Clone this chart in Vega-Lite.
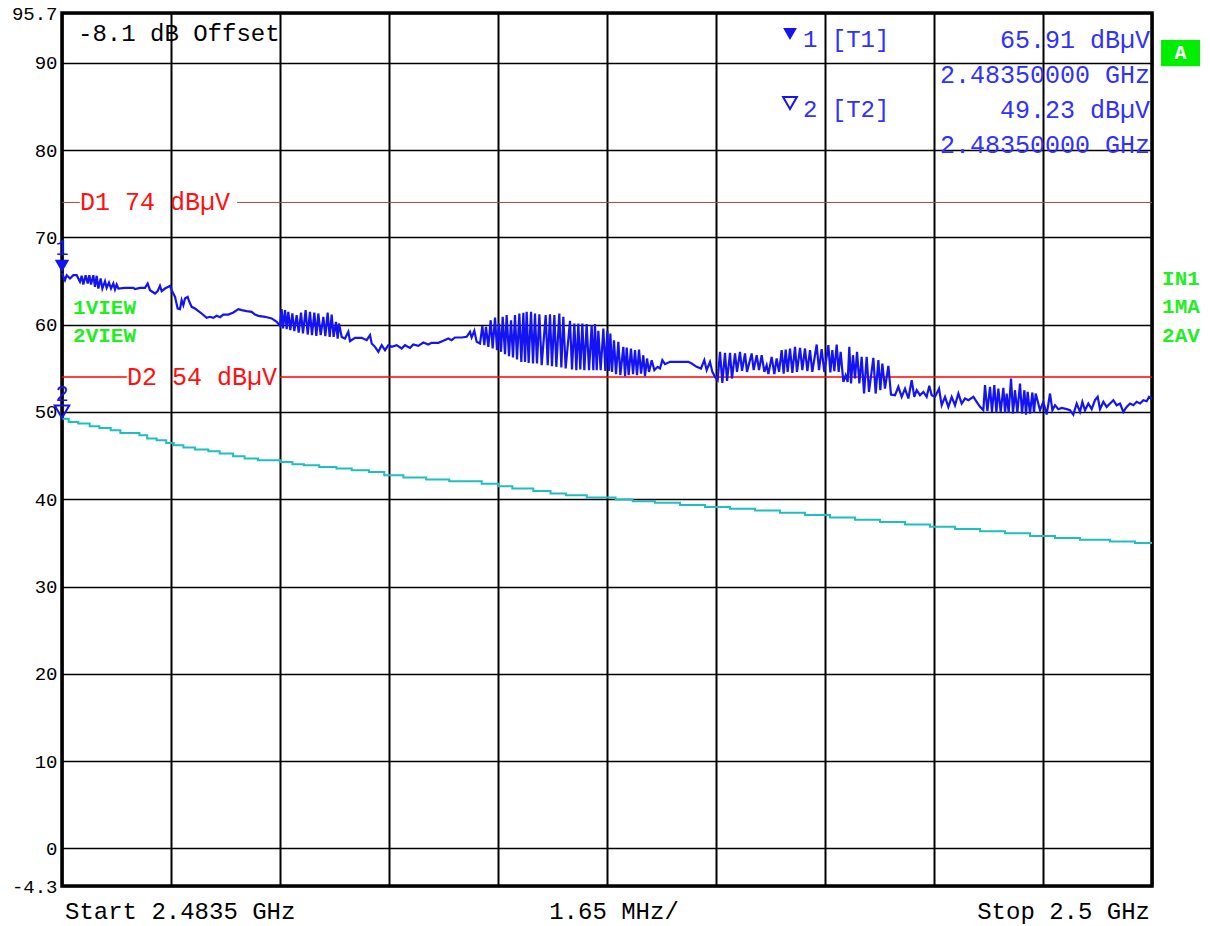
{
  "$schema": "https://vega.github.io/schema/vega-lite/v6.json",
  "width": 1090,
  "height": 873,
  "autosize": {"type": "none"},
  "padding": {"left": 62, "top": 13, "right": 58, "bottom": 40},
  "background": "white",
  "config": {"view": {"stroke": "black", "strokeWidth": 3.5}, "font": "Liberation Mono"},
  "datasets": {
    "trace1": [
      {"f":2483.5,"db":65.91},{"f":2483.545,"db":65.10},{"f":2483.571,"db":65.67},{"f":2483.621,"db":65.29},{"f":2483.672,"db":65.67},{"f":2483.722,"db":65.67},{"f":2483.772,"db":64.91},{"f":2483.798,"db":65.60},{"f":2483.823,"db":64.60},{"f":2483.858,"db":65.67},{"f":2483.889,"db":64.72},{"f":2483.914,"db":65.67},{"f":2483.939,"db":64.60},{"f":2483.974,"db":65.67},{"f":2483.999,"db":64.34},{"f":2484.025,"db":65.60},{"f":2484.050,"db":64.14},{"f":2484.085,"db":65.29},{"f":2484.111,"db":64.14},{"f":2484.151,"db":64.98},{"f":2484.176,"db":64.22},{"f":2484.211,"db":64.83},{"f":2484.242,"db":64.14},{"f":2484.277,"db":64.72},{"f":2484.302,"db":64.03},{"f":2484.327,"db":64.60},{"f":2484.353,"db":64.14},{"f":2484.454,"db":64.22},{"f":2484.580,"db":64.22},{"f":2484.605,"db":64.07},{"f":2484.681,"db":64.22},{"f":2484.756,"db":64.22},{"f":2484.797,"db":64.72},{"f":2484.832,"db":63.95},{"f":2484.908,"db":63.57},{"f":2484.948,"db":63.84},{"f":2484.983,"db":64.45},{"f":2485.009,"db":63.84},{"f":2485.059,"db":64.14},{"f":2485.110,"db":64.34},{"f":2485.135,"db":64.45},{"f":2485.160,"db":63.95},{"f":2485.211,"db":63.19},{"f":2485.251,"db":61.85},{"f":2485.286,"db":61.78},{"f":2485.311,"db":62.81},{"f":2485.337,"db":62.23},{"f":2485.362,"db":63.00},{"f":2485.402,"db":63.19},{"f":2485.428,"db":62.62},{"f":2485.463,"db":62.04},{"f":2485.513,"db":61.85},{"f":2485.614,"db":61.28},{"f":2485.690,"db":60.78},{"f":2485.740,"db":60.90},{"f":2485.791,"db":60.78},{"f":2485.841,"db":61.01},{"f":2485.892,"db":60.86},{"f":2485.942,"db":61.16},{"f":2486.018,"db":61.16},{"f":2486.094,"db":61.39},{"f":2486.169,"db":61.78},{"f":2486.220,"db":61.66},{"f":2486.295,"db":61.55},{"f":2486.371,"db":61.47},{"f":2486.422,"db":61.16},{"f":2486.472,"db":61.01},{"f":2486.573,"db":60.90},{"f":2486.674,"db":60.71},{"f":2486.750,"db":60.32},{"f":2486.800,"db":59.87},
      {"f":2486.825,"db":61.78},{"f":2486.846,"db":59.56},{"f":2486.876,"db":61.66},{"f":2486.901,"db":59.48},{"f":2486.926,"db":61.47},{"f":2486.956,"db":59.37},{"f":2486.987,"db":61.28},{"f":2487.017,"db":59.25},{"f":2487.052,"db":61.09},{"f":2487.083,"db":59.10},{"f":2487.118,"db":61.39},{"f":2487.148,"db":58.99},{"f":2487.188,"db":61.66},{"f":2487.219,"db":58.87},{"f":2487.254,"db":61.47},{"f":2487.284,"db":58.80},{"f":2487.320,"db":61.39},{"f":2487.350,"db":58.72},{"f":2487.380,"db":61.28},{"f":2487.416,"db":58.80},{"f":2487.456,"db":60.90},{"f":2487.486,"db":58.68},{"f":2487.521,"db":61.39},{"f":2487.552,"db":58.60},{"f":2487.582,"db":61.16},{"f":2487.612,"db":58.60},{"f":2487.648,"db":60.32},{"f":2487.673,"db":58.41},{"f":2487.693,"db":60.13},{"f":2487.734,"db":58.60},{"f":2487.784,"db":58.41},{"f":2487.834,"db":59.18},{"f":2487.860,"db":58.11},{"f":2487.935,"db":58.49},{"f":2488.036,"db":58.49},{"f":2488.112,"db":58.22},{"f":2488.163,"db":58.80},{"f":2488.188,"db":57.84},{"f":2488.238,"db":57.46},{"f":2488.289,"db":56.89},{"f":2488.339,"db":57.65},{"f":2488.390,"db":57.08},{"f":2488.440,"db":57.65},{"f":2488.490,"db":57.46},{"f":2488.566,"db":57.65},{"f":2488.642,"db":57.27},{"f":2488.692,"db":57.65},{"f":2488.768,"db":57.34},{"f":2488.818,"db":57.73},{"f":2488.894,"db":57.57},{"f":2488.970,"db":57.96},{"f":2489.045,"db":57.73},
      {"f":2489.096,"db":57.92},{"f":2489.197,"db":57.92},{"f":2489.273,"db":58.15},{"f":2489.348,"db":58.41},{"f":2489.399,"db":58.22},{"f":2489.449,"db":58.53},{"f":2489.550,"db":58.53},{"f":2489.626,"db":58.61},{"f":2489.676,"db":59.18},{"f":2489.701,"db":58.53},{"f":2489.742,"db":59.29},{"f":2489.777,"db":58.03},{"f":2489.828,"db":57.84},{"f":2489.863,"db":59.83},{"f":2489.893,"db":57.65},{"f":2489.918,"db":59.75},{"f":2489.954,"db":57.46},{"f":2489.989,"db":60.51},{"f":2490.019,"db":57.27},{"f":2490.055,"db":60.82},{"f":2490.085,"db":57.08},{"f":2490.115,"db":60.13},{"f":2490.146,"db":56.89},{"f":2490.171,"db":60.90},{"f":2490.206,"db":56.62},{"f":2490.231,"db":61.09},{"f":2490.267,"db":56.39},{"f":2490.297,"db":60.51},{"f":2490.327,"db":56.24},{"f":2490.357,"db":61.09},{"f":2490.388,"db":56.01},{"f":2490.423,"db":61.28},{"f":2490.453,"db":55.74},{"f":2490.484,"db":61.36},{"f":2490.509,"db":55.74},{"f":2490.534,"db":61.47},{"f":2490.564,"db":55.62},{"f":2490.600,"db":61.47},{"f":2490.630,"db":55.55},{"f":2490.660,"db":61.28},{"f":2490.690,"db":55.55},{"f":2490.726,"db":61.20},{"f":2490.761,"db":55.36},{"f":2490.822,"db":61.09},{"f":2490.852,"db":55.36},{"f":2490.887,"db":61.20},{"f":2490.917,"db":55.24},{"f":2490.953,"db":61.09},{"f":2490.983,"db":55.17},{"f":2491.028,"db":61.28},{"f":2491.059,"db":55.09},{"f":2491.089,"db":60.90},{"f":2491.124,"db":54.98},{"f":2491.190,"db":60.44},{"f":2491.220,"db":54.86},{"f":2491.256,"db":60.13},{"f":2491.286,"db":54.79},{"f":2491.316,"db":60.13},{"f":2491.346,"db":54.86},{"f":2491.377,"db":60.13},{"f":2491.407,"db":54.79},{"f":2491.442,"db":60.06},{"f":2491.478,"db":54.79},{"f":2491.518,"db":59.94},{"f":2491.543,"db":54.79},{"f":2491.568,"db":60.06},{"f":2491.594,"db":54.79},{"f":2491.619,"db":59.29},{"f":2491.654,"db":54.79},{"f":2491.695,"db":59.56},{"f":2491.725,"db":54.71},{"f":2491.755,"db":59.29},{"f":2491.780,"db":54.71},{"f":2491.801,"db":58.99},{"f":2491.826,"db":54.59},{"f":2491.856,"db":58.22},{"f":2491.886,"db":54.33},{"f":2491.922,"db":58.03},{"f":2491.952,"db":54.21},{"f":2491.997,"db":57.46},{"f":2492.023,"db":54.10},{"f":2492.048,"db":57.38},{"f":2492.078,"db":54.21},{"f":2492.113,"db":57.27},{"f":2492.144,"db":54.33},{"f":2492.174,"db":57.08},{"f":2492.204,"db":54.21},{"f":2492.235,"db":57.15},{"f":2492.265,"db":54.40},{"f":2492.300,"db":56.50},{"f":2492.325,"db":54.10},{"f":2492.356,"db":56.12},{"f":2492.386,"db":54.59},{"f":2492.426,"db":55.93},{"f":2492.467,"db":54.79},{"f":2492.517,"db":55.17},{"f":2492.552,"db":54.98},{"f":2492.588,"db":55.93},{"f":2492.628,"db":55.47},{"f":2492.704,"db":55.74},{"f":2492.780,"db":55.74},{"f":2492.981,"db":55.74},{"f":2493.032,"db":55.55},{"f":2493.107,"db":55.17},{"f":2493.173,"db":54.98},{"f":2493.223,"db":55.93},{"f":2493.259,"db":54.79},{"f":2493.309,"db":55.74},{"f":2493.345,"db":54.59},{"f":2493.385,"db":54.02},{"f":2493.425,"db":53.64},{"f":2493.461,"db":56.89},{"f":2493.496,"db":53.33},{"f":2493.536,"db":56.77},{"f":2493.567,"db":53.56},{"f":2493.612,"db":56.77},{"f":2493.642,"db":53.83},{"f":2493.688,"db":56.70},{"f":2493.718,"db":54.59},{"f":2493.763,"db":56.89},{"f":2493.794,"db":54.71},{"f":2493.839,"db":56.70},{"f":2493.869,"db":54.59},{"f":2493.940,"db":56.70},{"f":2493.970,"db":54.79},{"f":2494.016,"db":56.50},{"f":2494.051,"db":54.79},{"f":2494.091,"db":56.50},{"f":2494.132,"db":54.59},{"f":2494.167,"db":55.36},{"f":2494.193,"db":54.33},{"f":2494.243,"db":56.31},{"f":2494.283,"db":54.33},{"f":2494.318,"db":56.12},{"f":2494.354,"db":54.59},{"f":2494.394,"db":57.08},{"f":2494.424,"db":54.40},{"f":2494.455,"db":57.15},{"f":2494.485,"db":54.59},{"f":2494.520,"db":57.27},{"f":2494.556,"db":54.48},{"f":2494.596,"db":57.46},{"f":2494.626,"db":54.59},
      {"f":2494.672,"db":57.34},{"f":2494.707,"db":54.78},{"f":2494.747,"db":57.27},{"f":2494.783,"db":54.67},{"f":2494.823,"db":57.08},{"f":2494.858,"db":54.59},{"f":2494.924,"db":57.73},{"f":2494.959,"db":54.78},{"f":2494.999,"db":57.19},{"f":2495.040,"db":54.59},{"f":2495.101,"db":57.65},{"f":2495.131,"db":54.52},{"f":2495.161,"db":57.08},{"f":2495.191,"db":54.67},{"f":2495.227,"db":57.73},{"f":2495.257,"db":54.59},{"f":2495.287,"db":56.89},{"f":2495.328,"db":53.45},{"f":2495.363,"db":54.21},{"f":2495.393,"db":53.45},{"f":2495.418,"db":57.46},{"f":2495.444,"db":53.26},{"f":2495.474,"db":56.50},{"f":2495.504,"db":53.83},{"f":2495.535,"db":56.89},{"f":2495.570,"db":53.26},{"f":2495.605,"db":56.31},{"f":2495.641,"db":52.11},{"f":2495.681,"db":56.31},{"f":2495.716,"db":52.30},{"f":2495.782,"db":56.20},{"f":2495.817,"db":52.11},{"f":2495.858,"db":55.93},{"f":2495.888,"db":52.49},{"f":2495.918,"db":55.55},{"f":2495.958,"db":52.68},{"f":2496.009,"db":55.28},{"f":2496.049,"db":51.99},{"f":2496.110,"db":51.92},{"f":2496.160,"db":52.88},{"f":2496.211,"db":51.73},{"f":2496.261,"db":52.68},{"f":2496.312,"db":51.54},{"f":2496.362,"db":53.64},{"f":2496.402,"db":51.73},{"f":2496.438,"db":52.49},{"f":2496.488,"db":51.92},{"f":2496.539,"db":52.30},{"f":2496.589,"db":51.73},{"f":2496.629,"db":52.99},{"f":2496.665,"db":51.92},{"f":2496.715,"db":51.73},{"f":2496.776,"db":52.68},{"f":2496.816,"db":50.77},{"f":2496.867,"db":51.73},{"f":2496.917,"db":50.58},{"f":2496.968,"db":51.73},{"f":2497.018,"db":50.77},{"f":2497.069,"db":52.11},{"f":2497.119,"db":50.97},{"f":2497.169,"db":51.54},{"f":2497.220,"db":51.35},{"f":2497.296,"db":51.73},{"f":2497.346,"db":51.16},{"f":2497.397,"db":50.58},{"f":2497.447,"db":50.20},{"f":2497.472,"db":53.07},{"f":2497.508,"db":50.09},{"f":2497.548,"db":52.88},{"f":2497.578,"db":50.01},{"f":2497.613,"db":53.07},{"f":2497.644,"db":49.93},{"f":2497.674,"db":52.68},{"f":2497.709,"db":50.01},{"f":2497.750,"db":52.76},{"f":2497.775,"db":49.93},{"f":2497.800,"db":52.11},{"f":2497.830,"db":49.93},{"f":2497.866,"db":53.83},{"f":2497.896,"db":49.82},{"f":2497.926,"db":52.49},{"f":2497.962,"db":49.93},{"f":2498.002,"db":53.26},{"f":2498.032,"db":49.82},{"f":2498.068,"db":52.49},{"f":2498.093,"db":49.70},{"f":2498.118,"db":52.30},{"f":2498.153,"db":49.82},{"f":2498.189,"db":52.23},{"f":2498.214,"db":49.93},{"f":2498.239,"db":52.11},{"f":2498.305,"db":50.20},{"f":2498.355,"db":51.16},{"f":2498.406,"db":49.70},{"f":2498.456,"db":52.11},{"f":2498.492,"db":50.20},{"f":2498.532,"db":50.77},{"f":2498.582,"db":50.32},{"f":2498.633,"db":50.47},{"f":2498.709,"db":50.32},{"f":2498.759,"db":50.20},{"f":2498.809,"db":49.70},{"f":2498.860,"db":50.97},{"f":2498.910,"db":50.01},{"f":2498.946,"db":51.16},{"f":2498.986,"db":50.20},{"f":2499.036,"db":50.97},{"f":2499.087,"db":50.32},{"f":2499.137,"db":51.35},{"f":2499.178,"db":51.73},{"f":2499.213,"db":50.32},{"f":2499.264,"db":51.16},{"f":2499.314,"db":50.58},{"f":2499.365,"db":50.97},{"f":2499.415,"db":51.35},{"f":2499.465,"db":50.77},{"f":2499.516,"db":50.97},{"f":2499.566,"db":50.01},{"f":2499.617,"db":50.58},{"f":2499.667,"db":50.97},{"f":2499.718,"db":50.77},{"f":2499.768,"db":51.16},{"f":2499.819,"db":50.97},{"f":2499.869,"db":51.35},{"f":2499.919,"db":51.23},{"f":2499.955,"db":51.73},{"f":2500.0,"db":51.46}
    ],
    "trace2": [
      {"f":2483.5,"db":49.23},{"f":2483.601,"db":48.86},{"f":2483.745,"db":48.67},{"f":2483.919,"db":48.36},{"f":2484.065,"db":48.17},{"f":2484.237,"db":47.91},{"f":2484.383,"db":47.60},{"f":2484.672,"db":47.33},{"f":2484.789,"db":46.95},{"f":2484.933,"db":46.76},{"f":2485.078,"db":46.45},{"f":2485.193,"db":46.19},{"f":2485.338,"db":45.92},{"f":2485.512,"db":45.69},{"f":2485.715,"db":45.50},{"f":2485.887,"db":45.23},{"f":2486.090,"db":44.93},{"f":2486.264,"db":44.66},{"f":2486.467,"db":44.47},{"f":2486.814,"db":44.28},{"f":2486.988,"db":44.01},{"f":2487.162,"db":43.90},{"f":2487.394,"db":43.70},{"f":2487.654,"db":43.51},{"f":2487.886,"db":43.32},{"f":2488.146,"db":43.13},{"f":2488.378,"db":42.75},{"f":2488.667,"db":42.48},{"f":2489.013,"db":42.25},{"f":2489.362,"db":42.06},{"f":2489.853,"db":41.79},{"f":2490.114,"db":41.49},{"f":2490.317,"db":41.22},{"f":2490.635,"db":40.95},{"f":2490.895,"db":40.65},{"f":2491.127,"db":40.46},{"f":2491.444,"db":40.19},{"f":2491.879,"db":39.96},{"f":2492.139,"db":39.77},{"f":2492.477,"db":39.6},{"f":2492.855,"db":39.35},{"f":2493.234,"db":39.1},{"f":2493.612,"db":38.9},{"f":2493.991,"db":38.7},{"f":2494.369,"db":38.45},{"f":2494.748,"db":38.2},{"f":2495.126,"db":37.9},{"f":2495.504,"db":37.65},{"f":2495.883,"db":37.4},{"f":2496.261,"db":37.1},{"f":2496.640,"db":36.85},{"f":2497.018,"db":36.6},{"f":2497.397,"db":36.35},{"f":2497.775,"db":36.1},{"f":2498.154,"db":35.8},{"f":2498.532,"db":35.55},{"f":2498.910,"db":35.35},{"f":2499.365,"db":35.15},{"f":2499.743,"db":35.0},{"f":2500.0,"db":35.0}
    ],
    "lines": [
      {"line":"D1","f":2483.5,"f2":2483.77,"db":74},{"line":"D1","f":2486.15,"f2":2500,"db":74},
      {"line":"D2","f":2483.5,"f2":2484.48,"db":54},{"line":"D2","f":2486.80,"f2":2500,"db":54}
    ],
    "markers": [
      {"id":"1","trace":"max","f":2483.5,"db":65.91},
      {"id":"2","trace":"avg","f":2483.5,"db":49.23}
    ],
    "markerTable": [
      {"trace":"max","f":2494.52,"db":93.3},
      {"trace":"avg","f":2494.52,"db":85.4}
    ],
    "badge": [{"f":2500.137,"f2":2500.727,"db":92.6,"db2":89.6}],
    "notes": [
      {"group":"offset","text":"-8.1 dB Offset","f":2483.742,"db":93.3},
      {"group":"marker-id","text":"1 [T1]","f":2494.717,"db":92.6},
      {"group":"marker-id","text":"2 [T2]","f":2494.717,"db":84.6},
      {"group":"marker-value","text":"65.91 dBµV","f":2499.97,"db":92.6},
      {"group":"marker-value","text":"2.48350000 GHz","f":2499.97,"db":88.6},
      {"group":"marker-value","text":"49.23 dBµV","f":2499.97,"db":84.6},
      {"group":"marker-value","text":"2.48350000 GHz","f":2499.97,"db":80.6},
      {"group":"display-line","text":"D1 74 dBµV","f":2483.772,"db":74},
      {"group":"display-line","text":"D2 54 dBµV","f":2484.484,"db":54},
      {"group":"trace-info","text":"1VIEW","f":2483.667,"db":61.9},
      {"group":"trace-info","text":"2VIEW","f":2483.667,"db":58.7},
      {"group":"status","text":"IN1","f":2500.152,"db":65.2},
      {"group":"status","text":"1MA","f":2500.152,"db":62.0},
      {"group":"status","text":"2AV","f":2500.152,"db":58.7},
      {"group":"x-start","text":"Start 2.4835 GHz","f":2483.545,"db":-7.25},
      {"group":"x-span","text":"1.65 MHz/","f":2491.856,"db":-7.25},
      {"group":"x-stop","text":"Stop 2.5 GHz","f":2499.97,"db":-7.25},
      {"group":"badge","text":"A","f":2500.43,"db":91.1}
    ]
  },
  "encoding": {
    "x": {
      "field": "f", "type": "quantitative",
      "scale": {"domain": [2483.5, 2500], "nice": false, "zero": false},
      "axis": {"values": [2483.5, 2485.15, 2486.8, 2488.45, 2490.1, 2491.75, 2493.4, 2495.05, 2496.7, 2498.35, 2500], "grid": true, "gridColor": "black", "gridWidth": 2, "gridOpacity": 1, "labels": false, "ticks": false, "domain": false, "title": null}
    },
    "y": {
      "field": "db", "type": "quantitative",
      "scale": {"domain": [-4.3, 95.7], "nice": false, "zero": false},
      "axis": {"values": [-4.3, 0, 10, 20, 30, 40, 50, 60, 70, 80, 90, 95.7], "labelExpr": "toString(datum.value)", "grid": true, "gridColor": "black", "gridWidth": 1.5, "gridOpacity": 1, "ticks": false, "domain": false, "title": null, "labelFont": "Liberation Mono", "labelFontSize": 19, "labelColor": "black", "labelPadding": 5, "labelFlush": false, "labelOverlap": false, "labelBound": false, "labelBaseline": "middle"}
    }
  },
  "layer": [
    {"data": {"name": "lines"}, "transform": [{"filter": "datum.line === 'D1'"}], "mark": {"type": "rule", "color": "#b04040", "strokeWidth": 1}, "encoding": {"x2": {"field": "f2"}}},
    {"data": {"name": "lines"}, "transform": [{"filter": "datum.line === 'D2'"}], "mark": {"type": "rule", "color": "#ff0000", "strokeWidth": 1.5}, "encoding": {"x2": {"field": "f2"}}},
    {"data": {"name": "trace2"}, "mark": {"type": "line", "interpolate": "step-after", "color": "#1fbfbf", "strokeWidth": 2}, "encoding": {}},
    {"data": {"name": "trace1"}, "mark": {"type": "line", "color": "#1414f0", "strokeWidth": 2.2}, "encoding": {}},
    {"data": {"name": "markers"}, "transform": [{"filter": "datum.trace === 'max'"}], "mark": {"type": "point", "shape": "triangle-down", "filled": true, "size": 210, "color": "#1414f0", "opacity": 1, "yOffset": -7}, "encoding": {}},
    {"data": {"name": "markers"}, "transform": [{"filter": "datum.trace === 'avg'"}], "mark": {"type": "point", "shape": "triangle-down", "filled": false, "size": 210, "color": "#1414f0", "strokeWidth": 2, "opacity": 1, "yOffset": -7}, "encoding": {}},
    {"data": {"name": "markers"}, "mark": {"type": "text", "align": "center", "baseline": "middle", "dy": -25, "font": "Liberation Mono", "fontSize": 22, "color": "#1414f0"}, "encoding": {"text": {"field": "id"}}},
    {"data": {"name": "markerTable"}, "transform": [{"filter": "datum.trace === 'max'"}], "mark": {"type": "point", "shape": "triangle-down", "filled": true, "size": 190, "color": "#1414f0", "opacity": 1}, "encoding": {}},
    {"data": {"name": "markerTable"}, "transform": [{"filter": "datum.trace === 'avg'"}], "mark": {"type": "point", "shape": "triangle-down", "filled": false, "size": 190, "color": "#1414f0", "strokeWidth": 2, "opacity": 1}, "encoding": {}},
    {"data": {"name": "badge"}, "mark": {"type": "rect", "color": "#00ee00"}, "encoding": {"x2": {"field": "f2"}, "y2": {"field": "db2"}}},
    {"data": {"name": "notes"}, "transform": [{"filter": "datum.group === 'offset' || datum.group === 'x-start'"}], "mark": {"type": "text", "align": "left", "baseline": "middle", "font": "Liberation Mono", "fontSize": 24, "color": "black"}, "encoding": {"text": {"field": "text"}}},
    {"data": {"name": "notes"}, "transform": [{"filter": "datum.group === 'x-span'"}], "mark": {"type": "text", "align": "center", "baseline": "middle", "font": "Liberation Mono", "fontSize": 24, "color": "black"}, "encoding": {"text": {"field": "text"}}},
    {"data": {"name": "notes"}, "transform": [{"filter": "datum.group === 'x-stop'"}], "mark": {"type": "text", "align": "right", "baseline": "middle", "font": "Liberation Mono", "fontSize": 24, "color": "black"}, "encoding": {"text": {"field": "text"}}},
    {"data": {"name": "notes"}, "transform": [{"filter": "datum.group === 'marker-id'"}], "mark": {"type": "text", "align": "left", "baseline": "middle", "font": "Liberation Mono", "fontSize": 24, "color": "#3030ff"}, "encoding": {"text": {"field": "text"}}},
    {"data": {"name": "notes"}, "transform": [{"filter": "datum.group === 'marker-value'"}], "mark": {"type": "text", "align": "right", "baseline": "middle", "font": "Liberation Mono", "fontSize": 25, "color": "#3030ff"}, "encoding": {"text": {"field": "text"}}},
    {"data": {"name": "notes"}, "transform": [{"filter": "datum.group === 'display-line'"}], "mark": {"type": "text", "align": "left", "baseline": "middle", "font": "Liberation Mono", "fontSize": 25, "color": "#ff1010"}, "encoding": {"text": {"field": "text"}}},
    {"data": {"name": "notes"}, "transform": [{"filter": "datum.group === 'trace-info' || datum.group === 'status'"}], "mark": {"type": "text", "align": "left", "baseline": "middle", "font": "Liberation Mono", "fontSize": 21, "fontWeight": "bold", "color": "#22ee22"}, "encoding": {"text": {"field": "text"}}},
    {"data": {"name": "notes"}, "transform": [{"filter": "datum.group === 'badge'"}], "mark": {"type": "text", "align": "center", "baseline": "middle", "font": "Liberation Mono", "fontSize": 20, "fontWeight": "bold", "color": "white"}, "encoding": {"text": {"field": "text"}}}
  ]
}
